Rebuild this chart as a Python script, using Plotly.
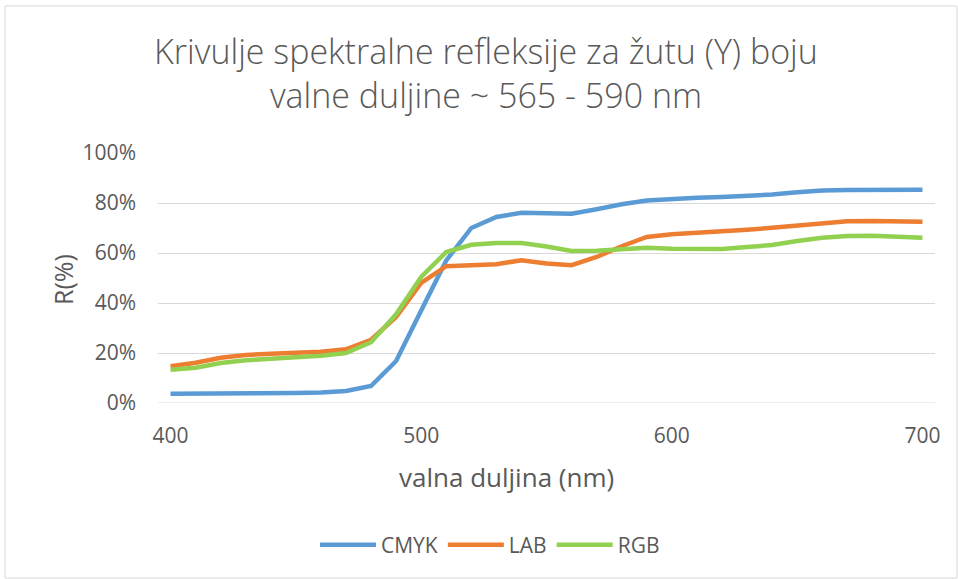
import plotly.graph_objects as go

wavelength = [400, 410, 420, 430, 440, 450, 460, 470, 480, 490, 500, 510, 520, 530, 540, 550,
              560, 570, 580, 590, 600, 610, 620, 630, 640, 650, 660, 670, 680, 690, 700]
cmyk = [3.7, 3.7, 3.8, 3.9, 3.9, 4.0, 4.2, 4.8, 6.8, 16.8, 37.0, 57.0, 70.0, 74.4, 76.1, 76.1,
        75.7, 77.5, 79.5, 81.0, 81.7, 82.1, 82.4, 82.7, 83.4, 84.3, 85.0, 85.2, 85.3, 85.3, 85.3]
lab = [14.7, 16.1, 18.1, 19.2, 19.7, 20.1, 20.5, 21.5, 25.3, 34.4, 48.0, 54.7, 55.3, 55.5, 57.1, 55.8,
       55.1, 58.4, 62.7, 66.4, 67.5, 68.0, 68.5, 69.3, 70.1, 71.1, 72.1, 72.7, 72.8, 72.7, 72.5]
rgb = [13.3, 14.1, 16.0, 17.1, 17.7, 18.3, 18.9, 20.0, 24.3, 35.5, 50.4, 60.4, 63.3, 64.0, 64.0, 62.6,
       60.8, 60.9, 61.6, 62.1, 61.7, 61.5, 61.6, 62.4, 63.2, 64.8, 66.1, 66.8, 66.9, 66.5, 66.1]

series = [("CMYK", cmyk, "#5B9BD5"), ("LAB", lab, "#ED7D31"), ("RGB", rgb, "#92D050")]
x_ticks = [400, 500, 600, 700]
y_ticks = [0, 20, 40, 60, 80, 100]
y_tick_text = ["0%", "20%", "40%", "60%", "80%", "100%"]

title_text = "Krivulje spektralne refleksije za žutu (Y) boju<br>valne duljine ~ 565 - 590 nm"
x_title = "valna duljina (nm)"
y_title = "R(%)"

W, H = 958, 579
L, R, T, B = 158, 23, 153, 176
FONT = "Open Sans"
TXT = "#595959"

fig = go.Figure()
for name, vals, col in series:
    fig.add_trace(go.Scatter(x=wavelength, y=vals, name=name, mode="lines",
                             line=dict(color=col, width=4.5)))

pw = W - L - R
ph = H - T - B
def px(p):
    return (p - L) / pw
def py(q):
    return (H - B - q) / ph

fig.update_layout(
    width=W, height=H,
    margin=dict(l=L, r=R, t=T, b=B),
    paper_bgcolor="white", plot_bgcolor="white",
    font=dict(family=FONT, color=TXT, size=21),
    title=dict(text=title_text, x=486 / W, xanchor="center", y=1 - 64 / H, yanchor="middle",
               font=dict(family=FONT, size=34, color=TXT, weight=300)),
    showlegend=True,
    legend=dict(orientation="h", x=px(490), xanchor="center", y=py(545), yanchor="middle",
                font=dict(size=21, color=TXT), itemwidth=56),
    xaxis=dict(range=[395, 705], tickvals=x_ticks, showgrid=False, zeroline=False,
               showline=False, ticks="", tickfont=dict(size=21, color=TXT), ticklabelstandoff=18),
    yaxis=dict(range=[0, 100], tickvals=y_ticks, ticktext=y_tick_text, showgrid=True,
               gridcolor="#D9D9D9", gridwidth=1, zeroline=False, showline=False, ticks="",
               tickfont=dict(size=21, color=TXT), ticklabelstandoff=21),
    annotations=[
        dict(text=x_title, xref="paper", yref="paper", x=px(506), y=py(477), xanchor="center",
             yanchor="middle", showarrow=False, font=dict(size=26, color=TXT)),
        dict(text=y_title, xref="paper", yref="paper", x=px(63), y=py(280), xanchor="center",
             yanchor="middle", textangle=-90, showarrow=False, font=dict(size=25, color=TXT)),
    ],
    shapes=[
        dict(type="line", xref="paper", yref="y", x0=0, x1=1, y0=0, y1=0,
             line=dict(color="#D9D9D9", width=1), layer="below"),
        dict(type="rect", xref="paper", yref="paper", x0=px(5), x1=px(957), y0=py(578), y1=py(6),
             line=dict(color="#D9D9D9", width=1), layer="below"),
    ],
)

fig.write_html("out.html", config={"displayModeBar": False},
               post_script="document.body.style.margin='0px';")
